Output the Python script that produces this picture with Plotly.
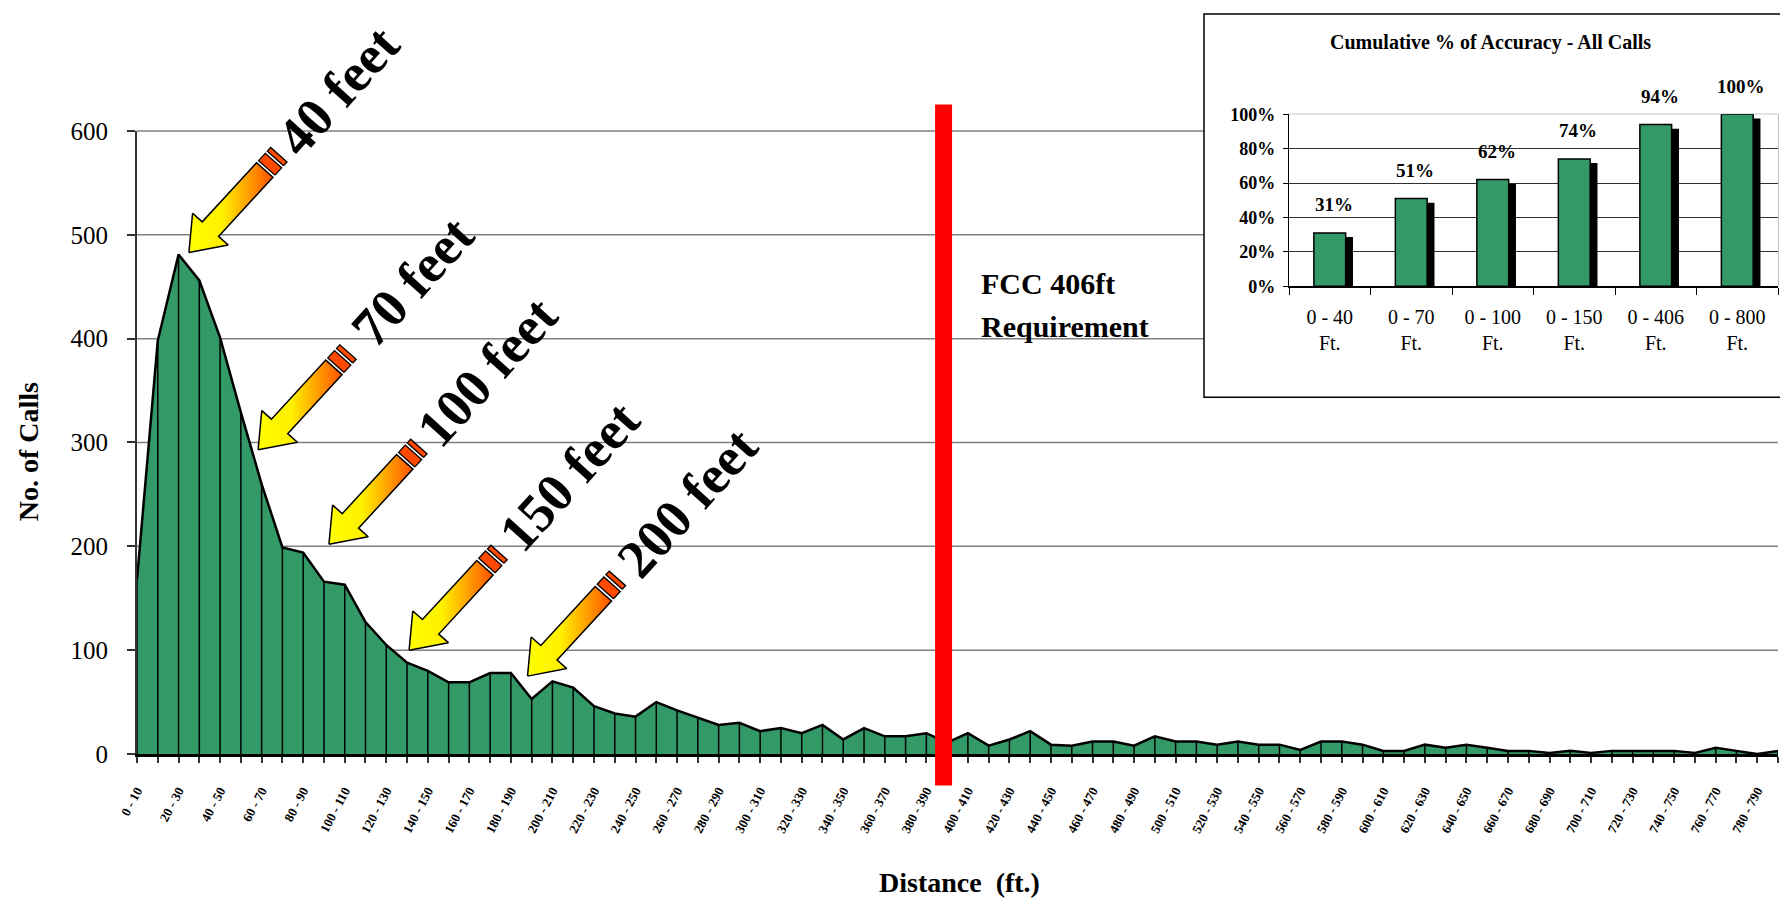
import plotly.graph_objects as go

# ---------------- data ----------------
bin_starts = list(range(0, 800, 10))
distance_bins = [f"{s} - {s + 10}" for s in bin_starts]
call_counts = [168, 398, 481, 456, 401, 329, 260, 199, 194, 166,
               163, 127, 105, 88, 80, 69, 69, 78, 78, 53,
               70, 64, 46, 39, 36, 50, 42, 35, 28, 30,
               22, 25, 20, 28, 14, 25, 17, 17, 20, 11,
               20, 8, 14, 22, 9, 8, 12, 12, 8, 17,
               12, 12, 9, 12, 9, 9, 4, 12, 12, 9,
               3, 3, 9, 6, 9, 6, 3, 3, 1, 3,
               1, 3, 3, 3, 3, 1, 6, 3, 0, 3]
y_ticks = [0, 100, 200, 300, 400, 500, 600]

inset_ranges = ["0 - 40", "0 - 70", "0 - 100", "0 - 150", "0 - 406", "0 - 800"]
inset_pct = [31, 51, 62, 74, 94, 100]
inset_ticks = [0, 20, 40, 60, 80, 100]

callout_labels = ["40 feet", "70 feet", "100 feet", "150 feet", "200 feet"]
callout_tip_x = [2.5, 5.83, 9.24, 13.1, 18.8]
callout_tip_y = [483, 293, 202, 100, 75]
callout_dist = [222, 230, 236, 238, 238]
fcc_line_x = 38.83

# ---------------- layout geometry ----------------
W, H = 1780, 904
ML, MR, MT, MB = 137, 2, 2, 150
PW = W - ML - MR
PH = H - MT - MB
AXIS_Y0 = H - MB


def fx(px):
    return (px - ML) / PW


def fy(py):
    return (AXIS_Y0 - py) / PH


Y_MAX = 600
MAIN_TOP = fy(120)
PX_PER_CAT = PW / (len(distance_bins) - 1)
PX_PER_UNIT = (AXIS_Y0 - 120) / Y_MAX

SERIF = "Liberation Serif"
GREEN = "#339966"

fig = go.Figure()
x_idx = list(range(len(distance_bins)))

# main area
fig.add_trace(go.Scatter(
    x=x_idx, y=call_counts, mode="lines", fill="tozeroy",
    fillcolor=GREEN, line=dict(color="black", width=2.5),
    hoverinfo="skip", showlegend=False))
# drop lines
dx, dy = [], []
for i, v in zip(x_idx, call_counts):
    dx += [i, i, None]
    dy += [0, v, None]
fig.add_trace(go.Scatter(x=dx, y=dy, mode="lines",
                         line=dict(color="black", width=1.5),
                         hoverinfo="skip", showlegend=False))

# callout arrows (block arrows with stripes)
U = (0.671, -0.742)   # screen direction tip -> tail
V = (0.742, 0.671)


def to_data(tx, ty, pts):
    xs, ys = [], []
    for u, w in pts:
        sx = u * U[0] + w * V[0]
        sy = u * U[1] + w * V[1]
        xs.append(tx + sx / PX_PER_CAT)
        ys.append(ty - sy / PX_PER_UNIT)
    xs.append(xs[0])
    ys.append(ys[0])
    return xs, ys


body = [(0, 0), (32, 24), (32, 11), (113, 11), (113, -11), (32, -11), (32, -24)]
stripe1 = [(116, 11), (126, 11), (126, -11), (116, -11)]
stripe2 = [(129, 11), (134, 11), (134, -11), (129, -11)]

annotations = []
for lab, tx, ty, dist in zip(callout_labels, callout_tip_x, callout_tip_y, callout_dist):
    bx, by = to_data(tx, ty, body)
    fig.add_trace(go.Scatter(
        x=bx, y=by, mode="lines", fill="toself",
        fillgradient=dict(type="horizontal",
                          colorscale=[[0, "#ffff00"], [0.4, "#fff000"], [1, "#ff5000"]]),
        line=dict(color="black", width=1.5), hoverinfo="skip", showlegend=False))
    for st in (stripe1, stripe2):
        sx, sy = to_data(tx, ty, st)
        fig.add_trace(go.Scatter(
            x=sx, y=sy, mode="lines", fill="toself", fillcolor="#ff4a00",
            line=dict(color="black", width=1.3), hoverinfo="skip", showlegend=False))
    tip_px = ML + tx * PX_PER_CAT
    tip_py = AXIS_Y0 - ty * PX_PER_UNIT
    lx = tip_px + dist * U[0]
    ly = tip_py + dist * U[1]
    annotations.append(dict(
        x=fx(lx), y=fy(ly), xref="paper", yref="paper", text=lab, showarrow=False,
        textangle=-47.9, xanchor="center", yanchor="middle",
        font=dict(family=SERIF, size=54, color="black", weight="bold")))

# inset bars: shadow + bars
fig.add_trace(go.Bar(
    x=inset_ranges, y=inset_pct, base=-2.4, width=0.39, offset=-0.105,
    marker=dict(color="black", line=dict(width=0)),
    xaxis="x2", yaxis="y2", hoverinfo="skip", showlegend=False))
fig.add_trace(go.Bar(
    x=inset_ranges, y=inset_pct, width=0.39, offset=-0.195,
    marker=dict(color=GREEN, line=dict(color="black", width=1.5)),
    xaxis="x2", yaxis="y2", hoverinfo="skip", showlegend=False))

for r, p in zip(inset_ranges, inset_pct):
    annotations.append(dict(
        x=r, y=p, xref="x2", yref="y2", text=f"{p}%", showarrow=False,
        yshift=28, xshift=4, xanchor="center", yanchor="middle",
        font=dict(family=SERIF, size=19, color="black", weight="bold")))

annotations += [
    dict(x=fx(1490), y=fy(30), xref="paper", yref="paper",
         text="Cumulative % of Accuracy - All Calls", showarrow=False,
         xanchor="center", yanchor="middle",
         font=dict(family=SERIF, size=20, color="black", weight="bold")),
    dict(x=fx(979), y=fy(275), xref="paper", yref="paper", text="FCC 406ft",
         showarrow=False, xanchor="left", yanchor="middle",
         font=dict(family=SERIF, size=30, color="black", weight="bold")),
    dict(x=fx(979), y=fy(319), xref="paper", yref="paper", text="Requirement",
         showarrow=False, xanchor="left", yanchor="middle",
         font=dict(family=SERIF, size=30, color="black", weight="bold")),
    dict(x=fx(28), y=fy(446), xref="paper", yref="paper", text="No. of Calls",
         showarrow=False, textangle=-90, xanchor="center", yanchor="middle",
         font=dict(family=SERIF, size=28, color="black", weight="bold")),
    dict(x=fx(959), y=fy(885), xref="paper", yref="paper", text="Distance  (ft.)",
         showarrow=False, xanchor="center", yanchor="middle",
         font=dict(family=SERIF, size=28, color="black", weight="bold")),
]

shapes = []
for v in y_ticks[1:]:
    shapes.append(dict(type="line", xref="paper", yref="paper", x0=0, x1=1,
                       y0=v / Y_MAX * MAIN_TOP, y1=v / Y_MAX * MAIN_TOP,
                       line=dict(color="#808080", width=1.5), layer="below"))
shapes.append(dict(type="rect", xref="paper", yref="paper",
                   x0=fx(1204), x1=fx(1800), y0=fy(391), y1=fy(1),
                   fillcolor="white", line=dict(color="black", width=1.5), layer="below"))
shapes.append(dict(type="rect", xref="x2 domain", yref="y2 domain",
                   x0=0, x1=1, y0=0, y1=1, fillcolor="#c0c0c0",
                   line=dict(color="#808080", width=1), layer="below"))
shapes.append(dict(type="line", xref="x", yref="paper", x0=fcc_line_x, x1=fcc_line_x,
                   y0=fy(786), y1=fy(93), line=dict(color="#ff0000", width=17),
                   layer="above"))

tick_text = [lab if i % 2 == 0 else "" for i, lab in enumerate(distance_bins)]

fig.update_layout(
    width=W, height=H,
    margin=dict(l=ML, r=MR, t=MT, b=MB, pad=0),
    paper_bgcolor="white", plot_bgcolor="white",
    showlegend=False, barmode="overlay",
    xaxis=dict(domain=[0, 1], anchor="y", range=[0, len(distance_bins) - 1],
               tickmode="array", tickvals=x_idx, ticktext=tick_text,
               tickangle=-62, ticks="outside", ticklen=6, tickwidth=1.5,
               tickcolor="#333333", showline=True, linecolor="black", linewidth=3,
               showgrid=False, zeroline=False, ticklabelstandoff=15,
               tickfont=dict(family=SERIF, size=13, color="black", weight="bold")),
    yaxis=dict(domain=[0, MAIN_TOP], anchor="x", range=[0, Y_MAX],
               tickmode="array", tickvals=y_ticks, ticks="outside", ticklen=8,
               tickwidth=1.5, tickcolor="#333333", showline=True,
               linecolor="#333333", linewidth=2, showgrid=False, zeroline=False,
               ticklabelstandoff=14,
               tickfont=dict(family=SERIF, size=25, color="black")),
    xaxis2=dict(domain=[fx(1289), 1.0], anchor="y2", type="category",
                range=[-0.5, len(inset_ranges) - 0.5],
                tickmode="array", tickvals=inset_ranges,
                ticktext=[f"{r}<br>Ft." for r in inset_ranges],
                tickson="boundaries", ticks="outside", ticklen=7, tickwidth=1.2,
                tickcolor="black", showline=True, linecolor="black", linewidth=1.5,
                showgrid=False, zeroline=False, ticklabelstandoff=12,
                tickfont=dict(family=SERIF, size=20, color="black")),
    yaxis2=dict(domain=[fy(278), fy(103)], anchor="x2", range=[0, 100],
                tickmode="array", tickvals=inset_ticks,
                ticktext=[f"{t}%" for t in inset_ticks],
                ticks="outside", ticklen=5, tickcolor="black", showline=True,
                linecolor="black", linewidth=1.2, showgrid=True,
                gridcolor="#303030", gridwidth=1, zeroline=False,
                ticklabelstandoff=4,
                tickfont=dict(family=SERIF, size=18, color="black", weight="bold")),
    annotations=annotations,
    shapes=shapes,
)

fig.write_html("out.html", config={"displayModeBar": False},
               post_script="document.body.style.margin='0';")
